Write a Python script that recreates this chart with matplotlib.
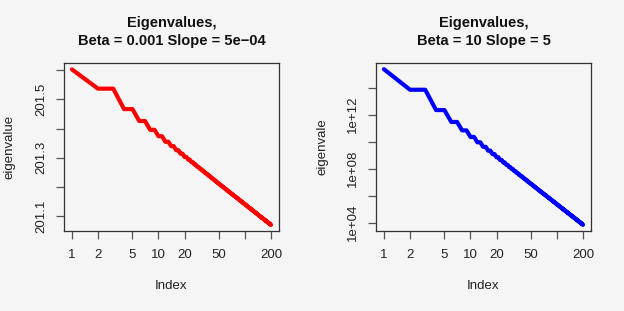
import numpy as np
import matplotlib
matplotlib.use("Agg")
import matplotlib.pyplot as plt
from matplotlib.ticker import FixedLocator, FixedFormatter, NullLocator

plt.rcParams['font.family'] = ['Liberation Sans', 'DejaVu Sans']

# ---- data -------------------------------------------------------------
# distinct eigenvalue levels (index 1 is single, then pairs of equal values)
left_levels = [
    201.603,
    201.537, 201.467, 201.426, 201.396, 201.374, 201.355, 201.340, 201.326, 201.314, 201.303,
    201.294, 201.285, 201.277, 201.269, 201.262, 201.256, 201.249, 201.244, 201.238, 201.233,
    201.228, 201.223, 201.219, 201.214, 201.210, 201.206, 201.202, 201.199, 201.195, 201.192,
    201.188, 201.185, 201.182, 201.179, 201.176, 201.173, 201.170, 201.168, 201.165, 201.163,
    201.160, 201.158, 201.155, 201.153, 201.151, 201.148, 201.146, 201.144, 201.142, 201.140,
    201.138, 201.136, 201.134, 201.132, 201.130, 201.128, 201.127, 201.125, 201.123, 201.121,
    201.120, 201.118, 201.116, 201.115, 201.113, 201.112, 201.110, 201.109, 201.107, 201.106,
    201.104, 201.103, 201.101, 201.100, 201.099, 201.097, 201.096, 201.095, 201.093, 201.092,
    201.091, 201.090, 201.089, 201.087, 201.086, 201.085, 201.084, 201.083, 201.081, 201.080,
    201.079, 201.078, 201.077, 201.076, 201.075, 201.074, 201.073, 201.072, 201.071, 201.070,
]
# right panel levels given as exponents (log10 of eigenvalue)
right_level_exp = [
    15.37,
    13.850, 12.345, 11.464, 10.840, 10.355, 9.959, 9.624, 9.335, 9.079, 8.850,
    8.643, 8.454, 8.280, 8.119, 7.969, 7.829, 7.698, 7.573, 7.456, 7.345,
    7.239, 7.138, 7.041, 6.949, 6.860, 6.775, 6.693, 6.614, 6.538, 6.464,
    6.393, 6.324, 6.257, 6.192, 6.130, 6.068, 6.009, 5.951, 5.894, 5.840,
    5.786, 5.734, 5.683, 5.633, 5.584, 5.536, 5.489, 5.444, 5.399, 5.355,
    5.312, 5.270, 5.228, 5.188, 5.148, 5.109, 5.070, 5.033, 4.996, 4.959,
    4.923, 4.888, 4.853, 4.819, 4.785, 4.752, 4.719, 4.687, 4.656, 4.624,
    4.594, 4.563, 4.533, 4.504, 4.475, 4.446, 4.417, 4.389, 4.362, 4.335,
    4.308, 4.281, 4.255, 4.229, 4.203, 4.178, 4.152, 4.128, 4.103, 4.079,
    4.055, 4.031, 4.007, 3.984, 3.961, 3.939, 3.916, 3.894, 3.872, 3.850,
]
multiplicity = [1] + [2] * 99 + [1]

left_eig = np.repeat(left_levels, multiplicity)
right_eig = 10.0 ** np.repeat(right_level_exp, multiplicity)
index = np.arange(1, len(left_eig) + 1)

x_ticks = [1, 2, 5, 10, 20, 50, 100, 200]
x_tick_labels = ["1", "2", "5", "10", "20", "50", "", "200"]
left_y_ticks = [201.1, 201.2, 201.3, 201.4, 201.5, 201.6]
left_y_labels = ["201.1", "", "201.3", "", "201.5", ""]
right_y_ticks = [1e4, 1e6, 1e8, 1e10, 1e12, 1e14]
right_y_labels = ["1e+04", "", "1e+08", "", "1e+12", ""]

titles = ["Eigenvalues,\nBeta = 0.001 Slope = 5e\u221204",
          "Eigenvalues,\nBeta = 10 Slope = 5"]
ylabels = ["eigenvalue", "eigenvale"]
colors = ["#ff0000", "#0000ff"]

# ---- figure -----------------------------------------------------------
W, H = 624, 311
bg = "#f5f5f5"
fig = plt.figure(figsize=(W / 100, H / 100), dpi=100, facecolor=bg)

def fx(px):
    return px / W

def fy(py):
    return 1 - py / H

ax_boxes = [(64, 279), (376, 591)]
top_px, bot_px = 63, 231

for k in range(2):
    x0, x1 = ax_boxes[k]
    ax = fig.add_axes([fx(x0), fy(bot_px), fx(x1 - x0), (bot_px - top_px) / H])
    ax.set_facecolor(bg)
    if k == 0:
        ax.plot(index, left_eig, color=colors[k], lw=3.0, solid_capstyle='round',
                solid_joinstyle='round')
        ax.set_xscale('log')
        ax.set_ylim(201.049, 201.625)
        ax.yaxis.set_major_locator(FixedLocator(left_y_ticks))
        ax.yaxis.set_major_formatter(FixedFormatter(left_y_labels))
    else:
        ax.plot(index, right_eig, color=colors[k], lw=3.0, solid_capstyle='round',
                solid_joinstyle='round')
        ax.set_xscale('log')
        ax.set_yscale('log')
        ax.set_ylim(10 ** 3.39, 10 ** 15.83)
        ax.yaxis.set_major_locator(FixedLocator(right_y_ticks))
        ax.yaxis.set_major_formatter(FixedFormatter(right_y_labels))
    ax.yaxis.set_minor_locator(NullLocator())
    ax.set_xlim(10 ** -0.092, 10 ** 2.393)
    ax.xaxis.set_major_locator(FixedLocator(x_ticks))
    ax.xaxis.set_major_formatter(FixedFormatter(x_tick_labels))
    ax.xaxis.set_minor_locator(NullLocator())

    for s in ax.spines.values():
        s.set_color("#333333")
        s.set_linewidth(0.9)
    ax.tick_params(axis='both', direction='out', length=6, width=0.9,
                   color="#555555", labelsize=9.5, labelcolor="#222222")
    ax.tick_params(axis='x', pad=7)
    ax.tick_params(axis='y', pad=6)
    for lab in ax.get_yticklabels():
        lab.set_rotation(90)
        lab.set_va('center')
        lab.set_ha('right')

    cx = (x0 + x1) / 2
    fig.text(fx(cx), fy(32), titles[k], ha='center', va='center',
             fontsize=10.5, fontweight='bold', color="#111111", linespacing=1.45)
    fig.text(fx(cx), fy(286), "Index", ha='center', va='center',
             fontsize=9.5, color="#222222")
    fig.text(fx(x0 - 54), fy((top_px + bot_px) / 2), ylabels[k], ha='center',
             va='center', rotation=90, fontsize=9.5, color="#222222")

fig.savefig("out.png", dpi=100, facecolor=bg)
